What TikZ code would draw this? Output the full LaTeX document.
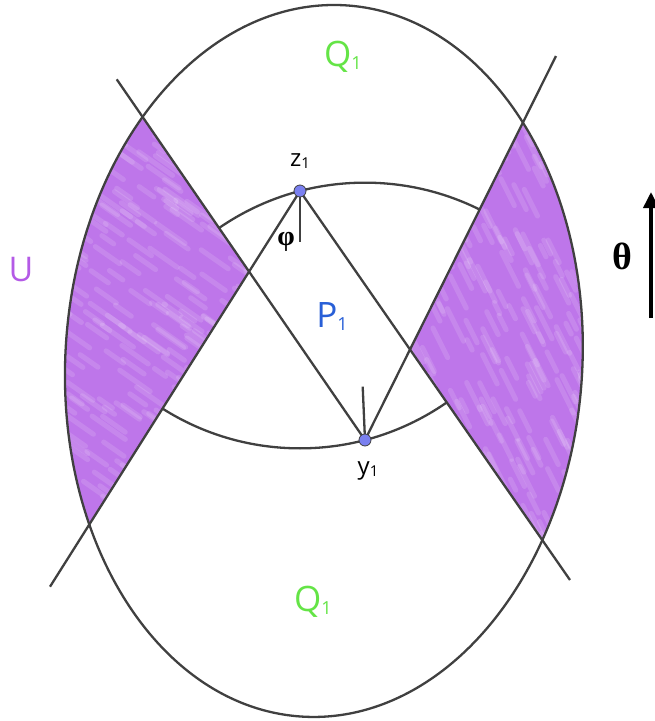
\documentclass[tikz,border=0pt]{standalone}
\usepackage{fontspec}
\setmainfont{Open Sans}
\newfontfamily\grk{Liberation Serif}
\usetikzlibrary{calc,arrows.meta}
\definecolor{edgecol}{RGB}{64,64,64}
\definecolor{lilac}{RGB}{190,118,234}
\definecolor{qgreen}{RGB}{100,228,70}
\definecolor{pblue}{RGB}{40,95,215}
\definecolor{upurple}{RGB}{180,90,230}
\definecolor{dotfill}{RGB}{122,128,240}
\newcommand\bigsub[2]{{\fontsize{35}{35}\selectfont #1}\raisebox{-3pt}{\fontsize{18}{18}\selectfont #2}}
\newcommand\smallsub[2]{{\fontsize{24}{24}\selectfont #1}\raisebox{-2pt}{\fontsize{15}{15}\selectfont #2}}
\begin{document}
\begin{tikzpicture}[x=1pt,y=-1pt,
  edgeline/.style={draw=edgecol,line width=2.3pt},
  dot/.style={circle,fill=dotfill,draw=edgecol,line width=0.8pt,minimum size=12pt,inner sep=0pt},
  streak/.style={white,opacity=0.13,line width=5pt,line cap=round},
  lbl/.style={inner sep=0pt}]
\useasboundingbox (0,0) rectangle (655,721);
\coordinate (C) at (323.9,361);
\coordinate (z1) at (300,191);
\coordinate (y1) at (365,440);
\coordinate (a1) at (116.7,79.3);
\coordinate (a3) at (556,56);
\coordinate (a2) at (50,586.7);
\coordinate (a4) at (570,580);
\coordinate (zt) at (300,241.7);
\coordinate (yt) at (362.7,386.7);
\coordinate (XL) at (intersection of y1--a1 and z1--a2);
\coordinate (XR) at (intersection of y1--a3 and z1--a4);
% shaded regions
\begin{scope}
\clip[rotate around={-3.5:(C)}] (C) ellipse [x radius=258.5pt, y radius=356.3pt];
\clip (XL) -- ($(y1)!1.4!(a1)$) -- (-100,-100) -- (-100,850) -- ($(z1)!1.6!(a2)$) -- cycle;
\fill[lilac] (-100,-100) rectangle (400,850);
\pgfmathsetseed{11}
\foreach \i in {1,...,260}{
  \pgfmathsetmacro\px{55+200*rnd}
  \pgfmathsetmacro\py{105+430*rnd}
  \pgfmathsetmacro\ln{10+24*rnd}
  \draw[streak] (\px,\py) -- ++(\ln,0.7*\ln);
}
\end{scope}
\begin{scope}
\clip[rotate around={-3.5:(C)}] (C) ellipse [x radius=258.5pt, y radius=356.3pt];
\clip (XR) -- ($(y1)!1.4!(a3)$) -- (760,-100) -- (760,850) -- ($(z1)!1.6!(a4)$) -- cycle;
\fill[lilac] (300,-100) rectangle (760,850);
\pgfmathsetseed{23}
\foreach \i in {1,...,260}{
  \pgfmathsetmacro\px{400+190*rnd}
  \pgfmathsetmacro\py{110+435*rnd}
  \pgfmathsetmacro\ln{10+24*rnd}
  \draw[streak] (\px,\py) -- ++(0.5*\ln,\ln);
}
\end{scope}
% arcs
\begin{scope}
\clip (y1) -- ($(y1)!1.5!(a1)$) -- ($(y1)!1.5!(a3)$) -- cycle;
\draw[edgeline] let \p1=($(z1)-(y1)$), \n1={veclen(\x1,\y1)} in (y1) circle [radius=\n1];
\end{scope}
\begin{scope}
\clip (z1) -- ($(z1)!1.5!(a2)$) -- ($(z1)!1.5!(a4)$) -- cycle;
\draw[edgeline] let \p1=($(y1)-(z1)$), \n1={veclen(\x1,\y1)} in (z1) circle [radius=\n1];
\end{scope}
% big ellipse
\draw[edgeline, rotate around={-3.5:(C)}] (C) ellipse [x radius=258.5pt, y radius=356.3pt];
% cone lines
\draw[edgeline] (a1) -- (y1) -- (a3);
\draw[edgeline] (a2) -- (z1) -- (a4);
\draw[edgeline] (z1) -- (zt);
\draw[edgeline] (y1) -- (yt);
% points
\node[dot] (pz) at (z1) {};
\node[dot] (py) at (y1) {};
% labels
\node[lbl,text=qgreen] (qtop) at (343,57) {\bigsub{Q}{1}};
\node[lbl,text=qgreen] (qbot) at (313,602) {\bigsub{Q}{1}};
\node[lbl,text=pblue] (p1) at (332,317) {\bigsub{P}{1}};
\node[lbl] (lz) at (300,161) {\smallsub{z}{1}};
\node[lbl] (ly) at (368,471) {\smallsub{y}{1}};
\node[lbl] (phi) at (286,242) {\fontsize{28}{28}\selectfont\grk\bfseries φ};
\node[lbl,text=upurple] (U) at (21,270) {\fontsize{34}{34}\selectfont U};
\node[lbl] (theta) at (622,256) {\fontsize{38}{38}\selectfont\grk\bfseries θ};
\coordinate (th0) at (651,318);
\coordinate (th1) at (651,192);
\draw[line width=3.6pt,-{Triangle[width=15pt,length=16pt]}] (th0) -- (th1);
\end{tikzpicture}
\end{document}
